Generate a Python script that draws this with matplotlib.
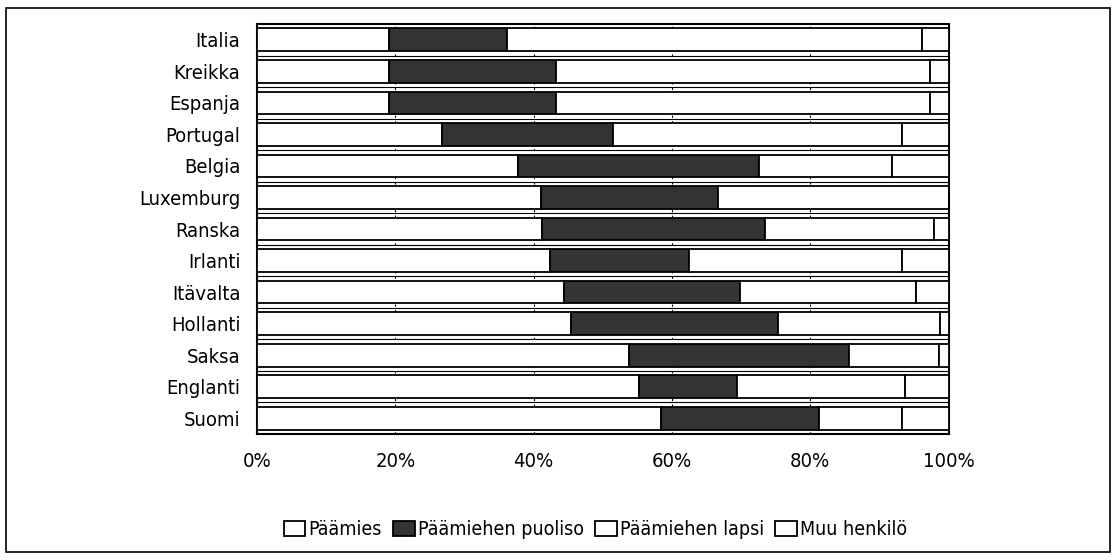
import matplotlib.pyplot as plt
import matplotlib.patches as mpatches
from matplotlib.ticker import FuncFormatter

plt.rcParams['font.family'] = ['DejaVu Sans']
plt.rcParams['font.stretch'] = 'condensed'

# maat ylhäältä alas
maat = ['Italia', 'Kreikka', 'Espanja', 'Portugal', 'Belgia', 'Luxemburg', 'Ranska',
        'Irlanti', 'Itävalta', 'Hollanti', 'Saksa', 'Englanti', 'Suomi']

# osuudet (%), luettu kuvasta
paamies = [19.1, 19.1, 19.1, 26.8, 37.8, 41.0, 41.2, 42.3, 44.4, 45.4, 53.8, 55.2, 58.4]
puoliso = [17.0, 24.2, 24.2, 24.7, 34.8, 25.7, 32.3, 20.1, 25.5, 30.0, 31.8, 14.2, 22.9]
lapsi = [60.1, 54.0, 54.0, 41.8, 19.2, 33.3, 24.4, 30.8, 25.4, 23.4, 13.0, 24.3, 12.0]
muu = [3.8, 2.7, 2.7, 6.7, 8.2, 0.0, 2.1, 6.8, 4.7, 1.2, 1.4, 6.3, 6.7]

sarjat = ['Päämies', 'Päämiehen puoliso', 'Päämiehen lapsi', 'Muu henkilö']
varit = ['white', '#333333', 'white', 'white']

fig = plt.figure(figsize=(11.19, 5.6), dpi=100)
ax = fig.add_axes([0.2297, 0.225, 0.618, 0.732])

y = list(range(len(maat)))
vasen = [0.0] * len(maat)
for nimi, arvot, vari in zip(sarjat, [paamies, puoliso, lapsi, muu], varit):
    ax.barh(y, arvot, left=vasen, height=0.72, color=vari, edgecolor='black',
            linewidth=1.3, label=nimi, zorder=3)
    vasen = [a + b for a, b in zip(vasen, arvot)]

# ohuet vaakaviivat palkkien välissä
for i in range(len(maat) - 1):
    ax.axhline(i + 0.5, color='black', linewidth=0.8, zorder=1)

ax.set_xlim(0, 100)
ax.set_ylim(len(maat) - 0.5, -0.5)
ax.set_yticks(y)
ax.set_yticklabels(maat, fontsize=14.5)
ax.set_xticks([0, 20, 40, 60, 80, 100])
ax.xaxis.set_major_formatter(FuncFormatter(lambda v, p: f'{v:.0f}%'))
ax.tick_params(axis='x', labelsize=14.5, length=0, pad=13)
ax.tick_params(axis='y', length=0, pad=12)
ax.grid(axis='x', linestyle=(0, (2, 3)), color='black', linewidth=0.8, zorder=0)
for s in ax.spines.values():
    s.set_linewidth(1.5)

ax.legend(loc='center', bbox_to_anchor=(0.532, 0.054), bbox_transform=fig.transFigure,
          ncol=4, frameon=False, fontsize=14, handlelength=1.1, handleheight=0.8,
          handletextpad=0.15, columnspacing=0.6)

# kehys kuvan ympärillä
fig.patches.append(mpatches.Rectangle((0.005, 0.014), 0.987, 0.972, transform=fig.transFigure,
                                      fill=False, edgecolor='black', linewidth=1.2))

fig.savefig('out.png', dpi=100)
